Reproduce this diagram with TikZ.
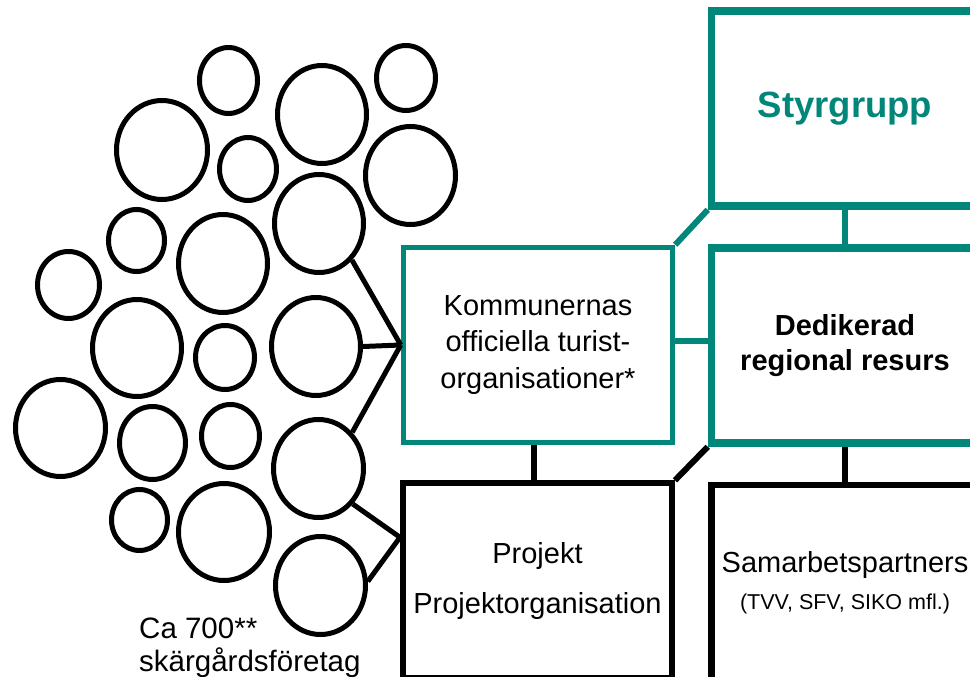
\documentclass[tikz,border=0pt]{standalone}
\usepackage{fontspec}
\setmainfont{Liberation Sans}
\usetikzlibrary{shapes.geometric,calc}
\definecolor{teal1}{RGB}{0,135,122}
\begin{document}
\begin{tikzpicture}[x=1pt,y=-1pt,
  bub/.style={ellipse,draw=black,line width=5pt,inner sep=0pt},
  box/.style={rectangle,draw,inner sep=2pt,align=center,minimum width=267pt,minimum height=195pt},
  tealbox/.style={box,draw=teal1},
  blackbox/.style={box,draw=black,line width=6pt},
  txt/.style={font=\fontsize{29}{36}\selectfont},
  conn/.style={line width=5pt,draw=black},
  tconn/.style={line width=6pt,draw=teal1},
  bconn/.style={line width=6pt,draw=black}]
\useasboundingbox (0,0) rectangle (970,677);
\clip (0,0) rectangle (970,677);
\fill[white] (0,0) rectangle (970,677);
% bubbles
\node[bub,minimum width=58pt,minimum height=66pt] (a) at (228.5,80.5) {};
\node[bub,minimum width=89pt,minimum height=98pt] (b) at (322,114.5) {};
\node[bub,minimum width=59pt,minimum height=65pt] (c) at (406,78) {};
\node[bub,minimum width=91pt,minimum height=99pt] (d) at (162,150) {};
\node[bub,minimum width=57pt,minimum height=63pt] (e) at (248,169) {};
\node[bub,minimum width=90pt,minimum height=98pt] (f) at (410.5,175.5) {};
\node[bub,minimum width=89pt,minimum height=98pt] (g) at (319,223.5) {};
\node[bub,minimum width=56pt,minimum height=62pt] (h) at (136.5,240.5) {};
\node[bub,minimum width=89pt,minimum height=98pt] (i) at (223,263.5) {};
\node[bub,minimum width=62pt,minimum height=67pt] (j) at (68.5,285) {};
\node[bub,minimum width=89pt,minimum height=97pt] (k) at (137,348) {};
\node[bub,minimum width=59pt,minimum height=64pt] (l) at (225,357.5) {};
\node[bub,minimum width=89pt,minimum height=98pt] (m) at (316,346.5) {};
\node[bub,minimum width=90pt,minimum height=97pt] (n) at (60.5,428) {};
\node[bub,minimum width=66pt,minimum height=73pt] (o) at (152.5,443) {};
\node[bub,minimum width=58pt,minimum height=63pt] (p) at (230.5,436) {};
\node[bub,minimum width=90pt,minimum height=98pt] (q) at (318.5,468.5) {};
\node[bub,minimum width=56pt,minimum height=61pt] (r) at (139.5,520) {};
\node[bub,minimum width=91pt,minimum height=97pt] (s) at (224,532) {};
\node[bub,minimum width=90pt,minimum height=98pt] (t) at (320.5,585.5) {};
% boxes
\node[tealbox,line width=7.5pt,text=teal1,font=\fontsize{36.5}{43}\selectfont\bfseries] (sty) at (845,108.5) {Styrgrupp};
\node[tealbox,line width=7.5pt,font=\fontsize{29}{35}\selectfont\bfseries,minimum width=267pt] (ded) at (845,345.5) {Dedikerad\\regional resurs};
\node[tealbox,line width=5.5pt,font=\fontsize{29}{36.5}\selectfont,minimum width=269pt] (komm) at (538,345) {Kommunernas\\officiella turist-\\organisationer*};
\node[blackbox,txt,minimum width=269pt] (proj) at (537.5,580.8) {Projekt\\[14pt]Projektorganisation};
\node[blackbox,line width=6.5pt,txt] (sam) at (845,582.5) {Samarbetspartners\\[1pt]{\fontsize{21.5}{25}\selectfont (TVV, SFV, SIKO mfl.)}};
% label
\node[anchor=west,align=left,inner sep=0pt,font=\fontsize{29.5}{33}\selectfont] (lab) at (139,648) {Ca 700**\\skärgårdsföretag};
% teal connectors
\draw[tconn] (sty.south) -- (ded.north);
\draw[tconn] (komm.north east) -- (sty.south west);
\draw[tconn] ([yshift=4.5pt]komm.east) -- ([yshift=4.5pt]komm.east -| ded.west);
% black connectors
\draw[bconn] ([xshift=-4pt]komm.south) -- ([xshift=-4pt]komm.south |- proj.north);
\draw[bconn] (proj.north east) -- (ded.south west);
\draw[bconn] (ded.south) -- (sam.north);
\coordinate (pj) at ($(proj.north west)+(0,57)$);
\draw[conn] (g.-48) -- (komm.west);
\draw[conn] (m.0) -- (komm.west);
\draw[conn] (q.47) -- (komm.west);
\draw[conn] (q.-46) -- (pj);
\draw[conn] (t.5) -- (pj);
\end{tikzpicture}
\end{document}
